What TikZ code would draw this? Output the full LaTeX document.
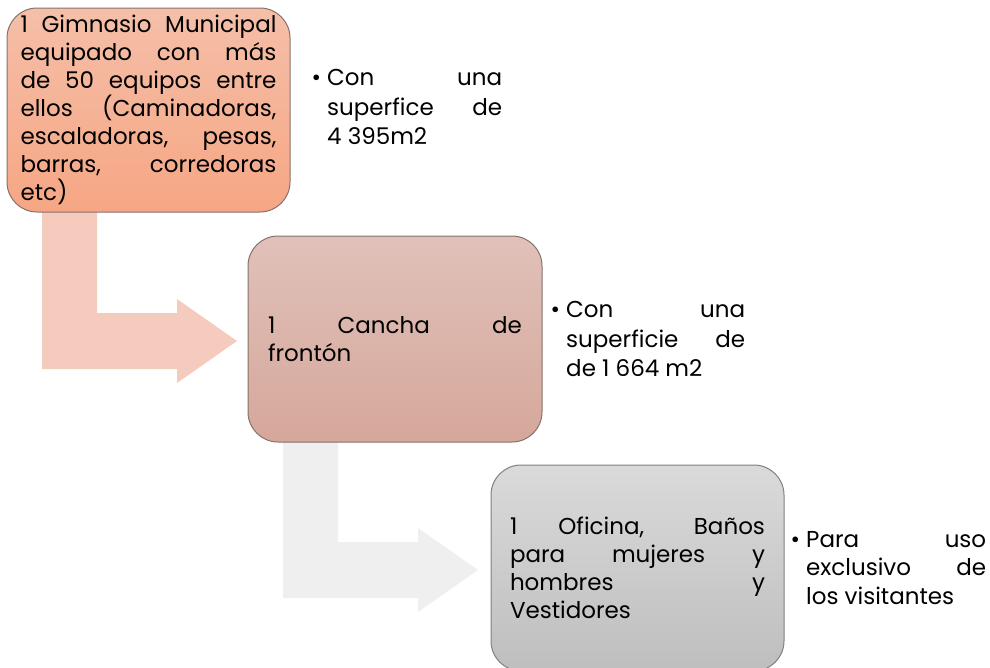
\documentclass[tikz,border=0pt]{standalone}
\usepackage{fontspec}
\setmainfont{Poppins}
\definecolor{arrowone}{HTML}{F5CBBE}
\definecolor{arrowtwo}{HTML}{EFEFEF}
\definecolor{oneT}{HTML}{F5BFA8}
\definecolor{oneB}{HTML}{F6A684}
\definecolor{twoT}{HTML}{E0C1B9}
\definecolor{twoB}{HTML}{D6A79B}
\definecolor{threeT}{HTML}{DADADA}
\definecolor{threeB}{HTML}{BEBEBE}
\definecolor{edgeone}{HTML}{85716B}
\definecolor{edgethree}{HTML}{808080}
\newcommand\jline[2]{\makebox[#1][s]{#2}}
\newcommand\bul{\leavevmode\llap{•\hspace{6pt}}}
\tikzset{
  boxnode/.style={draw=edgeone, line width=1pt, rounded corners=30pt, inner sep=0pt,
    align=left, font=\fontsize{23}{28}\selectfont},
  bulletnode/.style={inner sep=0pt, align=left, anchor=west, font=\fontsize{23}{29.5}\selectfont}
}
\begin{document}
\begin{tikzpicture}[x=1pt,y=-1pt]
\useasboundingbox (0,0) rectangle (990,667);
% arrows
\fill[arrowone] (42,205) -- (97,205) -- (97,313) -- (177,313) -- (177,299) -- (237,341) -- (177,383) -- (177,369) -- (42,369) -- cycle;
\fill[arrowtwo] (283,434) -- (338,434) -- (338,542) -- (418,542) -- (418,528) -- (478,570) -- (418,612) -- (418,598) -- (283,598) -- cycle;
% boxes
\node[boxnode, minimum width=283pt, minimum height=204pt, top color=oneT, bottom color=oneB] (b1) at (148.5,110)
 {\parbox{256pt}{\jline{256pt}{1 Gimnasio Municipal}\\
  \jline{256pt}{equipado con más}\\
  \jline{256pt}{de 50 equipos entre}\\
  \jline{256pt}{ellos (Caminadoras,}\\
  \jline{256pt}{escaladoras, pesas,}\\
  \jline{256pt}{barras, corredoras}\\
  etc)}};
\node[boxnode, minimum width=294pt, minimum height=206pt, top color=twoT, bottom color=twoB] (b2) at (395,339)
 {\parbox{254pt}{\jline{254pt}{1 Cancha de}\\
  frontón}};
\node[boxnode, draw=edgethree, minimum width=293pt, minimum height=206pt, top color=threeT, bottom color=threeB] (b3) at (637.5,568)
 {\parbox{255pt}{\jline{255pt}{1 Oficina, Baños}\\
  \jline{255pt}{para mujeres y}\\
  \jline{255pt}{hombres y}\\
  Vestidores}};
% bullet texts
\node[bulletnode] (t1) at (327,107)
 {\parbox{175pt}{\bul\jline{175pt}{Con una}\\
  \jline{175pt}{superfice de}\\
  4 395m2}};
\node[bulletnode] (t2) at (566,339)
 {\parbox{179pt}{\bul\jline{179pt}{Con una}\\
  \jline{179pt}{superficie de}\\
  de 1 664 m2}};
\node[bulletnode, font=\fontsize{23}{28.5}\selectfont] (t3) at (806,568)
 {\parbox{180pt}{\bul\jline{180pt}{Para uso}\\
  \jline{180pt}{exclusivo de}\\
  los visitantes}};
\end{tikzpicture}
\end{document}
